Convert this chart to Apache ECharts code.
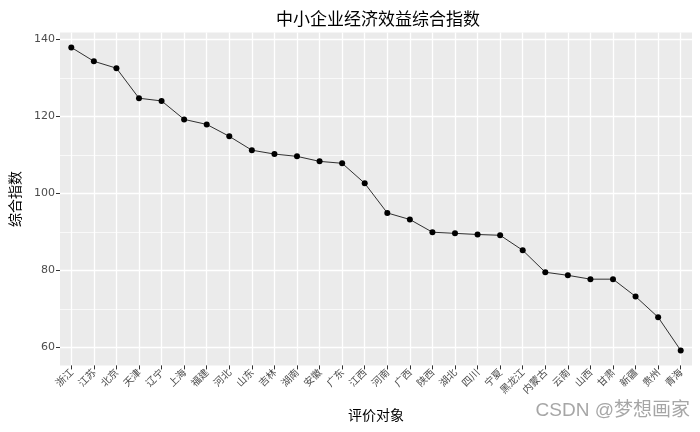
<!DOCTYPE html>
<html><head><meta charset="utf-8">
<script src="https://cdn.jsdelivr.net/npm/echarts@6/dist/echarts.min.js"></script>
<style>html,body{margin:0;padding:0;background:#fff}#c{width:700px;height:432px}</style>
</head><body><div id="c"></div>
<script>
var categories = ['浙江','江苏','北京','天津','辽宁','上海','福建','河北','山东','吉林','湖南','安徽','广东','江西','河南','广西','陕西','湖北','四川','宁夏','黑龙江','内蒙古','云南','山西','甘肃','新疆','贵州','青海'];
var values = [137.9,134.3,132.5,124.7,124.0,119.2,117.9,114.8,111.2,110.2,109.6,108.3,107.8,102.6,94.9,93.2,89.9,89.6,89.3,89.1,85.2,79.5,78.7,77.7,77.7,73.2,67.8,59.2];
var yMajorTicks = [60,80,100,120,140];
var yMinorTicks = [70,90,110,130];
var title = '中小企业经济效益综合指数';
var xTitle = '评价对象';
var yTitle = '综合指数';
var watermark = 'CSDN @梦想画家';

var font = '"Noto Sans CJK SC", "DejaVu Sans", sans-serif';
var chart = echarts.init(document.getElementById('c'), null, {renderer:'canvas'});
chart.setOption({
  animation: false,
  title: {text: title, left: 373, top: 5, textAlign: 'center',
    textStyle: {fontFamily: font, fontSize: 17, fontWeight: 'normal', color: '#000'}},
  grid: {left: 55, top: 32.4, width: 637, height: 333, show: true, backgroundColor: '#EBEBEB', borderWidth: 0},
  xAxis: {
    type: 'category', data: categories, boundaryGap: true,
    name: xTitle, nameLocation: 'middle', nameGap: 42,
    nameTextStyle: {fontFamily: font, fontSize: 14, color: '#000'},
    axisLine: {show: false},
    axisTick: {show: true, alignWithLabel: true, length: 4, lineStyle: {color: '#333', width: 1}},
    axisLabel: {rotate: 45, fontFamily: font, fontSize: 10, color: '#4D4D4D', margin: 5, interval: 0},
    splitLine: {show: true, alignWithLabel: true, lineStyle: {color: '#fff', width: 1.3}}
  },
  yAxis: [{
    type: 'value', min: 55.3, max: 141.8,
    name: yTitle, nameLocation: 'middle', nameGap: 38, nameRotate: 90,
    nameTextStyle: {fontFamily: font, fontSize: 14, color: '#000'},
    axisLine: {show: false},
    axisTick: {show: true, length: 4, customValues: yMajorTicks, lineStyle: {color: '#333'}},
    axisLabel: {customValues: yMajorTicks, fontFamily: '"DejaVu Sans", sans-serif', fontSize: 11, color: '#4D4D4D', margin: 5},
    splitLine: {show: true, lineStyle: {color: '#fff', width: 1.3}}
  },{
    type: 'value', min: 55.3, max: 141.8, position: 'left',
    axisLine: {show: false},
    axisTick: {show: false, customValues: yMinorTicks},
    axisLabel: {show: false, customValues: yMinorTicks},
    splitLine: {show: true, lineStyle: {color: '#fff', width: 0.7}}
  }],
  series: [{
    type: 'line', data: values, yAxisIndex: 0,
    symbol: 'circle', symbolSize: 6, showSymbol: true,
    lineStyle: {color: '#000', width: 0.8},
    itemStyle: {color: '#000'}
  }],
  graphic: [{
    type: 'text', right: 10, top: 401,
    style: {text: watermark, font: '19px "Liberation Sans", ' + font, fill: 'rgba(150,150,150,0.85)'}
  }]
});
</script></body></html>
